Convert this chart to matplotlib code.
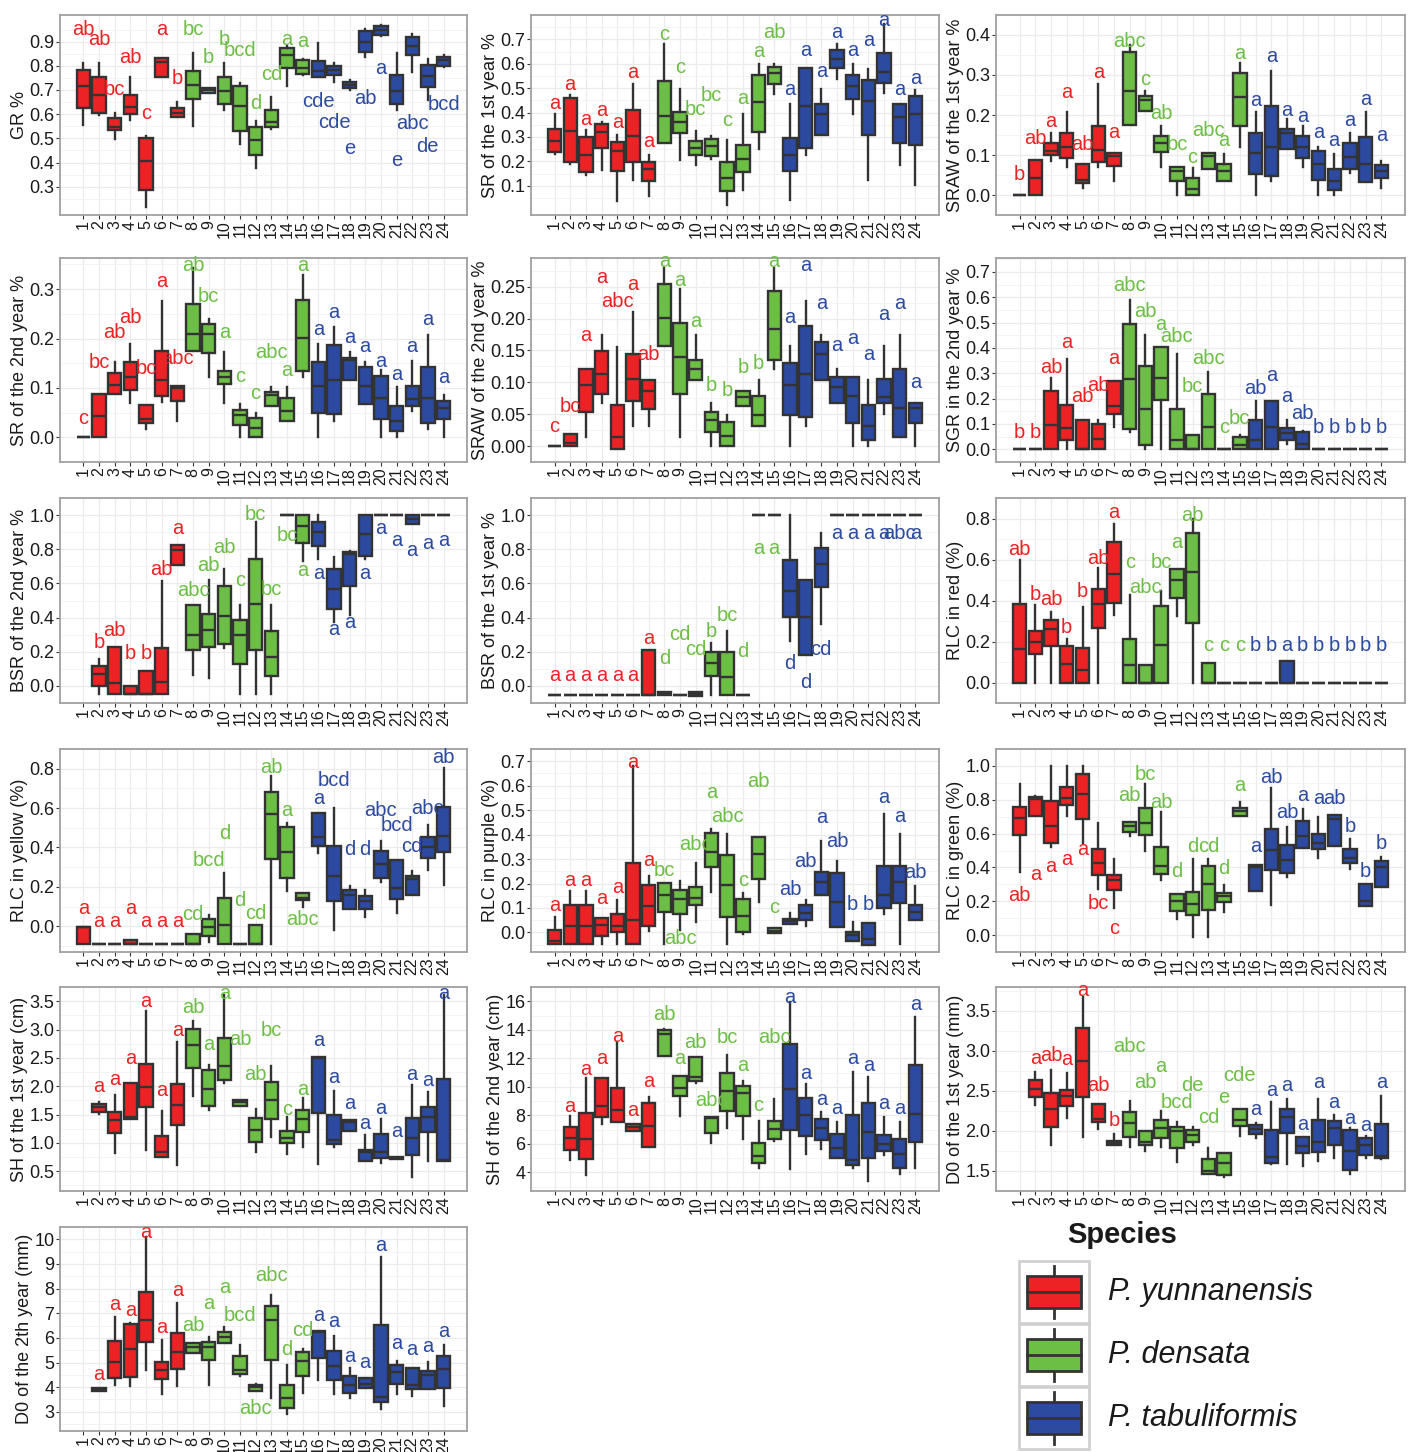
import matplotlib
matplotlib.use("Agg")
import matplotlib.pyplot as plt
import numpy as np
from matplotlib.patches import Rectangle

plt.rcParams['font.family'] = ['Liberation Sans', 'DejaVu Sans']

# groups 1-24, species by group
groups = list(range(1, 25))
species = ['P. yunnanensis', 'P. densata', 'P. tabuliformis']
species_of_group = [0] * 7 + [1] * 8 + [2] * 9
colors = ['#ED2224', '#6DBE45', '#2C4AA0']

Z = (0, 0, 0, 0, 0)
ONE = (1, 1, 1, 1, 1)

# (whisker low, q1, median, q3, whisker high) per group
gr_box = [(0.555, 0.624, 0.717, 0.783, 0.81), (0.597, 0.603, 0.68, 0.755, 0.81), (0.496, 0.535, 0.548, 0.583, 0.603),
          (0.576, 0.6, 0.628, 0.679, 0.752), (0.217, 0.286, 0.406, 0.5, 0.51), (0.755, 0.755, 0.817, 0.834, 0.834),
          (0.59, 0.59, 0.603, 0.624, 0.65), (0.552, 0.661, 0.72, 0.78, 0.852), (0.689, 0.689, 0.70, 0.707, 0.707),
          (0.617, 0.64, 0.697, 0.755, 0.81), (0.476, 0.53, 0.634, 0.717, 0.728), (0.376, 0.431, 0.493, 0.548, 0.573),
          (0.537, 0.548, 0.569, 0.617, 0.67), (0.717, 0.79, 0.845, 0.872, 0.88), (0.76, 0.766, 0.79, 0.824, 0.83),
          (0.752, 0.752, 0.78, 0.82, 0.893), (0.734, 0.762, 0.783, 0.80, 0.81), (0.70, 0.707, 0.72, 0.734, 0.74),
          (0.835, 0.859, 0.9, 0.945, 0.951), (0.925, 0.928, 0.948, 0.965, 0.97), (0.617, 0.642, 0.697, 0.762, 0.852),
          (0.776, 0.845, 0.88, 0.918, 0.932), (0.659, 0.711, 0.758, 0.803, 0.827), (0.797, 0.8, 0.824, 0.838, 0.845)]
gr_let = ['ab', 'ab', 'bc', 'ab', 'c', 'a', 'b', 'bc', 'b', 'b', 'bcd', 'd', 'cd', 'a', 'a',
          'cde', 'cde', 'e', 'ab', 'a', 'e', 'abc', 'de', 'bcd']
gr_lety = [0.948, 0.907, 0.70, 0.835, 0.603, 0.95, 0.748, 0.95, 0.835, 0.907, 0.863, 0.645, 0.766, 0.907, 0.90,
           0.652, 0.565, 0.459, 0.663, 0.79, 0.41, 0.562, 0.465, 0.638]

sr1_box = [(0.232, 0.238, 0.283, 0.334, 0.393), (0.191, 0.197, 0.325, 0.458, 0.472), (0.146, 0.155, 0.228, 0.301, 0.329),
           (0.164, 0.256, 0.32, 0.352, 0.36), (0.038, 0.159, 0.242, 0.279, 0.307), (0.122, 0.198, 0.304, 0.41, 0.517),
           (0.059, 0.118, 0.169, 0.197, 0.225), (0.274, 0.274, 0.384, 0.531, 0.682), (0.205, 0.315, 0.362, 0.404, 0.496),
           (0.184, 0.228, 0.256, 0.283, 0.325), (0.208, 0.221, 0.263, 0.29, 0.304), (0.022, 0.077, 0.132, 0.197, 0.287),
           (0.081, 0.155, 0.208, 0.269, 0.393), (0.249, 0.32, 0.444, 0.554, 0.60), (0.476, 0.517, 0.562, 0.586, 0.60),
           (0.04, 0.159, 0.228, 0.297, 0.435), (0.228, 0.256, 0.425, 0.582, 0.582), (0.307, 0.307, 0.393, 0.435, 0.496),
           (0.538, 0.582, 0.62, 0.655, 0.682), (0.393, 0.455, 0.507, 0.554, 0.60), (0.125, 0.307, 0.448, 0.535, 0.579),
           (0.48, 0.521, 0.568, 0.645, 0.765), (0.187, 0.274, 0.38, 0.435, 0.435), (0.104, 0.269, 0.393, 0.466, 0.494)]
sr1_let = ['a'] * 7 + ['c', 'c', 'bc', 'bc', 'c', 'a', 'a', 'ab'] + ['a'] * 9
sr1_lety = [0.439, 0.517, 0.373, 0.407, 0.359, 0.565, 0.283, 0.72, 0.586, 0.414, 0.469, 0.366, 0.458, 0.65, 0.73,
            0.494, 0.655, 0.568, 0.73, 0.655, 0.696, 0.778, 0.496, 0.54]

sraw1_box = [Z, (0, 0, 0.042, 0.087, 0.087), (0.086, 0.099, 0.111, 0.13, 0.155), (0.07, 0.093, 0.121, 0.156, 0.207),
             (0.017, 0.029, 0.038, 0.078, 0.078), (0.07, 0.082, 0.113, 0.172, 0.277), (0.035, 0.072, 0.098, 0.105, 0.105),
             (0.174, 0.174, 0.259, 0.357, 0.374), (0.209, 0.209, 0.238, 0.247, 0.259), (0.07, 0.107, 0.13, 0.148, 0.172),
             (0.0, 0.036, 0.061, 0.07, 0.07), (0.0, 0.0, 0.015, 0.042, 0.068), (0.064, 0.064, 0.098, 0.105, 0.105),
             (0.035, 0.036, 0.061, 0.078, 0.102), (0.121, 0.172, 0.245, 0.305, 0.33), (0.0, 0.052, 0.105, 0.156, 0.207),
             (0.035, 0.047, 0.121, 0.223, 0.311), (0.116, 0.116, 0.156, 0.165, 0.19), (0.07, 0.093, 0.121, 0.148, 0.172),
             (0.0, 0.038, 0.078, 0.109, 0.12), (0.0, 0.012, 0.035, 0.064, 0.102), (0.054, 0.064, 0.095, 0.13, 0.156),
             (0.033, 0.033, 0.078, 0.144, 0.207), (0.017, 0.042, 0.061, 0.075, 0.086)]
sraw1_let = ['b', 'ab', 'a', 'a', 'ab', 'a', 'a', 'abc', 'c', 'ab', 'bc', 'c', 'abc', 'a', 'a'] + ['a'] * 9
sraw1_lety = [0.05, 0.141, 0.184, 0.256, 0.127, 0.307, 0.156, 0.383, 0.289, 0.203, 0.127, 0.093, 0.162, 0.137, 0.353,
              0.237, 0.346, 0.212, 0.197, 0.156, 0.137, 0.186, 0.238, 0.148]

sr2_box = [Z, (0, 0, 0.043, 0.087, 0.087), (0.087, 0.087, 0.106, 0.13, 0.153), (0.07, 0.095, 0.122, 0.152, 0.189),
           (0.017, 0.029, 0.037, 0.065, 0.065), (0.071, 0.083, 0.115, 0.174, 0.276), (0.034, 0.073, 0.099, 0.104, 0.104),
           (0.174, 0.174, 0.209, 0.27, 0.342), (0.122, 0.17, 0.209, 0.23, 0.24), (0.07, 0.107, 0.122, 0.135, 0.172),
           (0.0, 0.025, 0.045, 0.056, 0.068), (0.0, 0.0, 0.019, 0.039, 0.05), (0.064, 0.064, 0.085, 0.091, 0.102),
           (0.034, 0.034, 0.054, 0.079, 0.102), (0.122, 0.135, 0.202, 0.278, 0.329), (0.0, 0.05, 0.104, 0.152, 0.189),
           (0.034, 0.047, 0.115, 0.186, 0.224), (0.116, 0.116, 0.157, 0.16, 0.172), (0.068, 0.068, 0.104, 0.143, 0.153),
           (0.0, 0.037, 0.079, 0.124, 0.137), (0.0, 0.012, 0.034, 0.064, 0.102), (0.053, 0.064, 0.078, 0.104, 0.155),
           (0.017, 0.029, 0.079, 0.143, 0.208), (0.0, 0.037, 0.059, 0.073, 0.085)]
sr2_let = ['c', 'bc', 'ab', 'ab', 'bc', 'a', 'abc', 'ab', 'bc', 'a', 'c', 'c', 'abc', 'a', 'a'] + ['a'] * 9
sr2_lety = [0.039, 0.152, 0.213, 0.242, 0.14, 0.315, 0.16, 0.348, 0.286, 0.213, 0.124, 0.089, 0.172, 0.135, 0.348,
            0.219, 0.252, 0.203, 0.183, 0.153, 0.127, 0.184, 0.238, 0.122]

sraw2_box = [Z, (0, 0, 0.005, 0.019, 0.019), (0.014, 0.053, 0.095, 0.121, 0.121), (0.068, 0.081, 0.113, 0.149, 0.174),
             (-0.005, -0.005, 0.014, 0.064, 0.155), (0.032, 0.071, 0.105, 0.144, 0.21), (0.032, 0.058, 0.086, 0.103, 0.103),
             (0.157, 0.157, 0.201, 0.255, 0.279), (0.014, 0.081, 0.139, 0.193, 0.246), (0.103, 0.103, 0.121, 0.135, 0.174),
             (0.0, 0.022, 0.041, 0.054, 0.067), (0.0, 0.0, 0.015, 0.037, 0.049), (0.063, 0.063, 0.077, 0.086, 0.086),
             (0.031, 0.031, 0.049, 0.078, 0.103), (0.121, 0.135, 0.184, 0.243, 0.28), (0.0, 0.049, 0.095, 0.13, 0.157),
             (0.032, 0.046, 0.113, 0.189, 0.228), (0.103, 0.103, 0.145, 0.163, 0.174), (0.067, 0.067, 0.092, 0.108, 0.121),
             (0.0, 0.036, 0.078, 0.108, 0.108), (0.0, 0.009, 0.032, 0.064, 0.103), (0.051, 0.067, 0.077, 0.105, 0.157),
             (0.014, 0.014, 0.059, 0.121, 0.174), (0.0, 0.036, 0.059, 0.068, 0.068)]
sraw2_let = ['c', 'bc', 'a', 'a', 'abc', 'a', 'ab', 'a', 'a', 'a', 'b', 'b', 'b', 'b', 'a'] + ['a'] * 9
sraw2_lety = [0.031, 0.062, 0.173, 0.264, 0.226, 0.254, 0.143, 0.289, 0.26, 0.196, 0.095, 0.087, 0.123, 0.13, 0.289,
              0.201, 0.283, 0.224, 0.158, 0.168, 0.144, 0.206, 0.224, 0.1]

sgr_box = [Z, Z, (0, 0, 0.097, 0.229, 0.282), (0, 0.036, 0.084, 0.176, 0.355), (0, 0, 0, 0.114, 0.114),
           (0, 0, 0.042, 0.101, 0.114), (0.088, 0.141, 0.171, 0.268, 0.268), (0.068, 0.082, 0.276, 0.496, 0.588),
           (0, 0.018, 0.161, 0.329, 0.453), (0, 0.193, 0.282, 0.404, 0.404), (0, 0, 0.036, 0.161, 0.378),
           (0, 0, 0, 0.058, 0.058), (0, 0, 0.088, 0.22, 0.305), Z, (0, 0, 0.018, 0.049, 0.058),
           (0, 0, 0.036, 0.114, 0.189), (0, 0, 0.088, 0.189, 0.189), (0.022, 0.036, 0.066, 0.084, 0.114),
           (0, 0, 0.022, 0.068, 0.072), Z, Z, Z, Z, Z]
sgr_let = ['b', 'b', 'ab', 'a', 'ab', 'ab', 'a', 'abc', 'ab', 'a', 'abc', 'bc', 'abc', 'c', 'bc',
           'ab', 'a', 'a', 'ab', 'b', 'b', 'b', 'b', 'b']
sgr_lety = [0.068, 0.068, 0.321, 0.421, 0.21, 0.253, 0.358, 0.647, 0.542, 0.492, 0.447, 0.246, 0.358, 0.088, 0.121,
            0.242, 0.292, 0.207, 0.141, 0.088, 0.088, 0.088, 0.088, 0.088]

b0 = -0.045
bsr2_box = [None, (b0, 0.0, 0.067, 0.114, 0.16), (b0, b0, 0.015, 0.229, 0.229), (b0, b0, b0, 0.0, 0.0),
            (b0, b0, b0, 0.086, 0.086), (b0, b0, 0.024, 0.224, 0.612), (0.709, 0.709, 0.795, 0.826, 0.826),
            (0.062, 0.211, 0.30, 0.472, 0.472), (0.049, 0.229, 0.328, 0.422, 0.621), (0.22, 0.248, 0.407, 0.584, 0.683),
            (b0, 0.127, 0.30, 0.388, 0.472), (b0, 0.211, 0.478, 0.743, 0.957), (b0, 0.056, 0.168, 0.323, 0.472),
            ONE, (0.733, 0.836, 0.938, 1.0, 1.0), (0.743, 0.821, 0.901, 0.957, 1.0), (0.373, 0.448, 0.565, 0.683, 0.757),
            (0.416, 0.584, 0.77, 0.783, 0.79), (0.743, 0.761, 0.892, 1.0, 1.0), ONE, ONE,
            (0.948, 0.948, 0.976, 1.0, 1.0), ONE, ONE]
bsr2_let = ['', 'b', 'ab', 'b', 'b', 'ab', 'a', 'abc', 'ab', 'ab', 'c', 'bc', 'bc', 'bc', 'a'] + ['a'] * 9
bsr2_lety = [None, 0.254, 0.323, 0.187, 0.187, 0.683, 0.92, 0.56, 0.705, 0.808, 0.616, 1.004, 0.565, 0.882, 0.677,
             0.659, 0.328, 0.369, 0.659, 0.92, 0.851, 0.795, 0.832, 0.851]

c0 = -0.052
C0 = (c0, c0, c0, c0, c0)
bsr1_box = [C0] * 6 + [(c0, c0, c0, 0.212, 0.212), (c0, c0, -0.045, -0.037, -0.037), C0,
                       (-0.061, -0.061, -0.045, -0.034, -0.034), (c0, 0.06, 0.134, 0.199, 0.25),
                       (c0, c0, 0.05, 0.199, 0.324), C0, ONE, ONE, (0.264, 0.404, 0.553, 0.739, 1.0),
                       (0.181, 0.181, 0.404, 0.622, 0.622), (0.361, 0.577, 0.715, 0.808, 0.894)] + [ONE] * 6
bsr1_let = ['a'] * 7 + ['d', 'cd', 'cd', 'b', 'bc', 'd', 'a', 'a', 'd', 'd', 'cd', 'a', 'a', 'a', 'a', 'abc', 'a']
bsr1_lety = [0.063] * 6 + [0.279, 0.162, 0.302, 0.212, 0.32, 0.413, 0.199, 0.804, 0.804, 0.134, 0.022, 0.212] + [0.894] * 6

rlcr_box = [(0, 0, 0.164, 0.383, 0.6), (0, 0.141, 0.2, 0.252, 0.378), (0, 0.179, 0.262, 0.305, 0.345),
            (0, 0, 0.092, 0.179, 0.214), (0, 0, 0.063, 0.17, 0.368), (0, 0.266, 0.385, 0.455, 0.56),
            (0.33, 0.388, 0.531, 0.684, 0.775), (0, 0, 0.083, 0.214, 0.426), (0, 0, 0, 0.087, 0.087),
            (0, 0, 0.182, 0.374, 0.447), (0.324, 0.412, 0.499, 0.553, 0.553), (0, 0.291, 0.538, 0.727, 0.8),
            (0, 0, 0, 0.095, 0.095), Z, Z, Z, Z, (0, 0, 0, 0.106, 0.106), Z, Z, Z, Z, Z, Z]
rlcr_let = ['ab', 'b', 'ab', 'b', 'b', 'ab', 'a', 'c', 'abc', 'bc', 'a', 'ab', 'c', 'c', 'c',
            'b', 'b', 'a', 'b', 'b', 'b', 'b', 'b', 'b']
rlcr_lety = [0.65, 0.429, 0.403, 0.266, 0.444, 0.604, 0.829, 0.586, 0.461, 0.586, 0.684, 0.815] + [0.179] * 12

y0 = -0.088
Y0 = (y0, y0, y0, y0, y0)
rlcy_box = [(y0, y0, -0.003, -0.003, -0.003), Y0, Y0, (y0, y0, y0, -0.07, -0.07), Y0, Y0, Y0,
            (y0, y0, y0, -0.042, -0.042), (-0.081, -0.05, -0.003, 0.037, 0.059), (y0, y0, 0.008, 0.143, 0.27), Y0,
            (y0, y0, y0, 0.008, 0.008), (y0, 0.34, 0.569, 0.682, 0.761), (0.177, 0.244, 0.379, 0.502, 0.525),
            (0.098, 0.131, 0.143, 0.168, 0.168), (0.374, 0.408, 0.455, 0.573, 0.573), (-0.017, 0.126, 0.256, 0.408, 0.598),
            (0.088, 0.088, 0.16, 0.182, 0.205), (0.047, 0.088, 0.126, 0.155, 0.182), (0.222, 0.244, 0.317, 0.384, 0.435),
            (0.067, 0.138, 0.194, 0.337, 0.337), (0.16, 0.16, 0.239, 0.256, 0.278), (0.286, 0.345, 0.404, 0.451, 0.514),
            (0.211, 0.379, 0.458, 0.606, 0.805)]
rlcy_let = ['a'] * 7 + ['cd', 'bcd', 'd', 'd', 'cd', 'ab', 'a', 'abc', 'a', 'bcd', 'd', 'd', 'abc', 'bcd', 'cd', 'abc', 'ab']
rlcy_lety = [0.088, 0.025, 0.025, 0.088, 0.025, 0.025, 0.025, 0.059, 0.333, 0.472, 0.131, 0.067, 0.805, 0.589, 0.034,
             0.648, 0.741, 0.391, 0.391, 0.586, 0.514, 0.404, 0.598, 0.859]

rlcp_box = [(-0.048, -0.048, -0.035, 0.01, 0.064), (-0.048, -0.048, 0.026, 0.113, 0.171),
            (-0.048, -0.048, 0.026, 0.113, 0.171), (-0.048, -0.013, 0.03, 0.059, 0.059), (-0.048, 0.0, 0.026, 0.075, 0.133),
            (-0.048, -0.048, 0.052, 0.284, 0.68), (0.004, 0.026, 0.107, 0.193, 0.229), (-0.048, 0.085, 0.155, 0.201, 0.201),
            (0.01, 0.077, 0.137, 0.175, 0.21), (0.043, 0.111, 0.139, 0.184, 0.284), (0.165, 0.268, 0.33, 0.407, 0.423),
            (-0.048, 0.064, 0.193, 0.317, 0.403), (-0.006, 0.0, 0.068, 0.137, 0.162), (0.124, 0.219, 0.32, 0.39, 0.39),
            (-0.003, -0.003, 0.005, 0.017, 0.017), (0.034, 0.034, 0.045, 0.055, 0.081), (0.026, 0.052, 0.081, 0.113, 0.133),
            (0.155, 0.155, 0.206, 0.249, 0.374), (0.021, 0.021, 0.126, 0.245, 0.294), (-0.035, -0.035, -0.009, 0.0, 0.043),
            (-0.052, -0.052, -0.028, 0.039, 0.039), (0.075, 0.101, 0.155, 0.271, 0.485), (-0.048, 0.12, 0.206, 0.271, 0.403),
            (0.049, 0.049, 0.085, 0.113, 0.191)]
rlcp_let = ['a'] * 7 + ['bc', 'abc', 'abc', 'a', 'abc', 'c', 'ab', 'c', 'ab', 'ab', 'a', 'ab', 'b', 'b', 'a', 'a', 'ab']
rlcp_lety = [0.111, 0.214, 0.214, 0.139, 0.184, 0.693, 0.296, 0.255, -0.026, 0.358, 0.571, 0.474, 0.214, 0.619, 0.1,
             0.175, 0.291, 0.468, 0.371, 0.113, 0.113, 0.552, 0.472, 0.245]

rlcg_box = [(0.375, 0.593, 0.691, 0.756, 0.891), (0.702, 0.702, 0.805, 0.818, 0.825), (0.52, 0.542, 0.642, 0.793, 1.0),
            (0.702, 0.769, 0.811, 0.878, 1.0), (0.545, 0.684, 0.833, 0.951, 1.0), (0.273, 0.356, 0.424, 0.509, 0.665),
            (0.16, 0.269, 0.327, 0.356, 0.451), (0.587, 0.611, 0.647, 0.669, 0.669), (0.496, 0.593, 0.66, 0.751, 0.891),
            (0.324, 0.364, 0.411, 0.52, 0.727), (0.096, 0.142, 0.2, 0.242, 0.242), (-0.013, 0.12, 0.182, 0.255, 0.447),
            (-0.013, 0.151, 0.302, 0.411, 0.447), (0.138, 0.193, 0.229, 0.251, 0.296), (0.702, 0.702, 0.733, 0.751, 0.787),
            (0.26, 0.26, 0.40, 0.415, 0.415), (0.175, 0.387, 0.505, 0.629, 0.869), (0.345, 0.369, 0.442, 0.533, 0.636),
            (0.515, 0.515, 0.587, 0.673, 0.745), (0.455, 0.509, 0.542, 0.60, 0.696), (0.527, 0.527, 0.687, 0.709, 0.709),
            (0.393, 0.424, 0.455, 0.509, 0.569), (0.169, 0.169, 0.2, 0.302, 0.302), (0.284, 0.284, 0.405, 0.436, 0.46)]
rlcg_let = ['ab', 'a', 'a', 'a', 'a', 'bc', 'c', 'ab', 'bc', 'ab', 'd', 'd', 'cd', 'd', 'a',
            'a', 'ab', 'ab', 'a', 'a', 'ab', 'b', 'b', 'b']
rlcg_lety = [0.233, 0.356, 0.405, 0.447, 0.505, 0.187, 0.036, 0.824, 0.951, 0.782, 0.375, 0.524, 0.524, 0.396, 0.887,
             0.524, 0.933, 0.724, 0.824, 0.805, 0.805, 0.642, 0.378, 0.542]

sh1_box = [None, (1.513, 1.542, 1.629, 1.687, 1.716), (0.818, 1.183, 1.397, 1.554, 1.843), (1.415, 1.415, 1.455, 2.052, 2.052),
           (0.876, 1.629, 1.994, 2.399, 3.326), (0.761, 0.761, 0.847, 1.125, 1.571), (0.604, 1.311, 1.67, 2.034, 2.787),
           (1.82, 2.324, 2.729, 3.001, 3.152), (1.589, 1.658, 1.948, 2.283, 2.382), (2.063, 2.11, 2.364, 2.845, 3.615),
           (1.658, 1.658, 1.716, 1.762, 1.762), (0.847, 1.021, 1.224, 1.438, 1.6), (1.108, 1.415, 1.762, 2.075, 2.364),
           (0.801, 0.992, 1.091, 1.206, 1.455), (0.934, 1.195, 1.415, 1.589, 1.785), (0.627, 1.531, 2.498, 2.515, 2.515),
           (0.934, 0.975, 1.05, 1.496, 1.919), (1.206, 1.206, 1.369, 1.398, 1.398), (0.674, 0.674, 0.847, 0.876, 1.137),
           (0.645, 0.732, 0.847, 1.166, 1.426), (0.72, 0.72, 0.743, 0.761, 0.761), (0.396, 0.79, 1.091, 1.438, 2.017),
           (0.685, 1.195, 1.455, 1.629, 1.901), (0.674, 0.674, 0.703, 2.133, 3.615)]
sh1_let = ['', 'a', 'a', 'a', 'a', 'a', 'a', 'ab', 'a', 'a', 'ab', 'ab', 'bc', 'c', 'a'] + ['a'] * 9
sh1_lety = [None, 1.994, 2.121, 2.498, 3.5, 1.919, 2.978, 3.384, 2.729, 3.627, 2.816, 2.208, 2.99, 1.589, 1.948,
            2.805, 2.15, 1.704, 1.34, 1.6, 1.195, 2.208, 2.11, 3.627]

sh2_box = [None, (4.84, 5.58, 6.42, 7.21, 7.94), (3.82, 4.95, 6.35, 8.17, 10.61), (7.4, 7.89, 8.62, 10.61, 10.61),
           (7.55, 7.55, 8.35, 9.93, 13.15), (6.88, 6.88, 7.17, 7.4, 7.4), (5.81, 5.81, 7.26, 8.84, 9.3),
           (12.15, 12.15, 13.67, 14.0, 14.05), (7.94, 9.37, 9.93, 10.79, 10.79), (10.27, 10.38, 10.72, 12.08, 12.08),
           (6.08, 6.76, 7.78, 7.89, 7.89), (7.1, 8.3, 9.7, 10.95, 12.2), (6.35, 7.94, 9.59, 10.04, 10.38),
           (4.32, 4.68, 5.18, 6.04, 7.62), (6.2, 6.35, 7.03, 7.62, 9.14), (4.23, 6.99, 9.82, 12.99, 15.93),
           (5.29, 6.58, 8.01, 9.21, 10.2), (5.63, 6.26, 7.1, 7.71, 8.23), (5.0, 5.0, 5.74, 6.72, 7.55),
           (4.32, 4.5, 4.84, 8.01, 11.06), (3.37, 5.0, 6.81, 8.84, 10.72), (5.22, 5.52, 5.97, 6.65, 7.89),
           (3.86, 4.32, 5.29, 6.35, 7.55), (4.32, 6.13, 8.08, 11.52, 14.91)]
sh2_let = ['', 'a', 'a', 'a', 'a', 'a', 'a', 'ab', 'a', 'ab', 'abc', 'bc', 'a', 'c', 'abc'] + ['a'] * 9
sh2_lety = [None, 8.62, 11.24, 12.01, 13.55, 8.35, 10.34, 15.09, 12.01, 13.1, 9.03, 13.44, 11.47, 8.69, 13.44,
            16.27, 10.95, 9.14, 8.46, 11.97, 11.52, 8.84, 8.46, 15.77]

d01_box = [None, (2.324, 2.418, 2.52, 2.635, 2.733), (1.827, 2.051, 2.276, 2.471, 2.765), (2.161, 2.308, 2.431, 2.512, 2.716),
           (1.929, 2.418, 2.867, 3.288, 3.671), (2.022, 2.112, 2.145, 2.337, 2.337), (1.818, 1.818, 1.847, 1.876, 1.957),
           (1.794, 1.929, 2.092, 2.235, 2.378), (1.745, 1.827, 1.867, 1.998, 1.998), (1.794, 1.908, 2.031, 2.133, 2.243),
           (1.614, 1.786, 1.998, 2.051, 2.112), (1.827, 1.867, 1.949, 2.01, 2.051), (1.467, 1.467, 1.5, 1.643, 1.786),
           (1.427, 1.451, 1.602, 1.724, 1.724), (1.941, 2.063, 2.133, 2.276, 2.276), (1.908, 1.957, 2.022, 2.071, 2.092),
           (1.582, 1.602, 1.671, 2.01, 2.357), (1.59, 1.969, 2.173, 2.276, 2.398), (1.561, 1.724, 1.806, 1.929, 1.929),
           (1.622, 1.737, 1.867, 2.133, 2.398), (1.663, 1.827, 2.039, 2.12, 2.194), (1.467, 1.508, 1.745, 2.01, 2.031),
           (1.663, 1.704, 1.827, 1.916, 1.941), (1.643, 1.663, 1.684, 2.08, 2.439)]
d01_let = ['', 'a', 'ab', 'a', 'a', 'ab', 'b', 'abc', 'ab', 'a', 'bcd', 'de', 'cd', 'e', 'cde'] + ['a'] * 9
d01_lety = [None, 2.908, 2.937, 2.896, 3.745, 2.569, 2.133, 3.051, 2.602, 2.798, 2.357, 2.569, 2.161, 2.418, 2.692,
            2.267, 2.5, 2.561, 2.08, 2.602, 2.357, 2.153, 2.071, 2.602]

d02_box = [None, (3.83, 3.83, 3.9, 3.97, 3.97), (4.07, 4.37, 5.04, 5.88, 6.86), (4.05, 4.41, 5.55, 6.55, 6.59),
           (4.68, 5.84, 6.73, 7.85, 10.08), (3.74, 4.34, 4.68, 5.04, 5.92), (4.05, 4.74, 5.41, 6.19, 7.42),
           (5.39, 5.39, 5.61, 5.79, 5.79), (4.1, 5.12, 5.61, 5.84, 6.02), (5.79, 5.79, 6.02, 6.24, 6.46),
           (4.45, 4.54, 4.68, 5.25, 5.71), (3.83, 3.83, 4.01, 4.1, 4.14), (3.54, 5.12, 6.73, 7.29, 7.76),
           (2.89, 3.16, 3.56, 4.1, 4.88), (3.78, 4.47, 5.08, 5.44, 5.55), (4.31, 5.17, 6.24, 6.28, 6.28),
           (3.74, 4.27, 4.85, 5.48, 6.06), (3.56, 3.78, 4.1, 4.45, 4.77), (3.97, 3.97, 4.14, 4.37, 4.37),
           (3.11, 3.38, 3.6, 6.51, 9.3), (3.74, 4.14, 4.61, 4.88, 5.08), (3.64, 3.91, 4.07, 4.77, 4.77),
           (3.91, 3.91, 4.5, 4.64, 5.01), (3.24, 3.97, 4.72, 5.25, 5.71)]
d02_let = ['', 'a', 'a', 'a', 'a', 'a', 'a', 'ab', 'a', 'a', 'bcd', 'abc', 'abc', 'd', 'cd'] + ['a'] * 9
d02_lety = [None, 4.5, 7.36, 7.13, 10.27, 6.42, 7.93, 6.51, 7.4, 8.03, 6.89, 3.13, 8.52, 5.52, 6.28,
            6.89, 6.65, 5.25, 5.01, 9.73, 5.79, 5.52, 5.65, 6.24]

# panel grid position, data, y label, y range, y ticks, tick format
panels = [
    (0, 0, gr_box, gr_let, gr_lety, 'GR %', (0.183, 1.01), [0.3, 0.4, 0.5, 0.6, 0.7, 0.8, 0.9], '%.1f'),
    (0, 1, sr1_box, sr1_let, sr1_lety, 'SR of the 1st year %', (-0.02, 0.8), [0.1, 0.2, 0.3, 0.4, 0.5, 0.6, 0.7], '%.1f'),
    (0, 2, sraw1_box, sraw1_let, sraw1_lety, 'SRAW of the 1st year %', (-0.018, 0.402), [0.0, 0.1, 0.2, 0.3, 0.4], '%.1f'),
    (1, 0, sr2_box, sr2_let, sr2_lety, 'SR of the 2nd year %', (-0.014, 0.363), [0.0, 0.1, 0.2, 0.3], '%.1f'),
    (1, 1, sraw2_box, sraw2_let, sraw2_lety, 'SRAW of the 2nd year %', (-0.017, 0.295),
     [0.0, 0.05, 0.10, 0.15, 0.20, 0.25], '%.2f'),
    (1, 2, sgr_box, sgr_let, sgr_lety, 'SGR in the 2nd year %', (-0.045, 0.755),
     [0.0, 0.1, 0.2, 0.3, 0.4, 0.5, 0.6, 0.7], '%.1f'),
    (2, 0, bsr2_box, bsr2_let, bsr2_lety, 'BSR of the 2nd year %', (-0.093, 1.05), [0.0, 0.2, 0.4, 0.6, 0.8, 1.0], '%.1f'),
    (2, 1, bsr1_box, bsr1_let, bsr1_lety, 'BSR of the 1st year %', (-0.1, 1.047), [0.0, 0.2, 0.4, 0.6, 0.8, 1.0], '%.1f'),
    (2, 2, rlcr_box, rlcr_let, rlcr_lety, 'RLC in red (%)', (-0.029, 0.863), [0.0, 0.2, 0.4, 0.6, 0.8], '%.1f'),
    (3, 0, rlcy_box, rlcy_let, rlcy_lety, 'RLC in yellow (%)', (-0.131, 0.9), [0.0, 0.2, 0.4, 0.6, 0.8], '%.1f'),
    (3, 1, rlcp_box, rlcp_let, rlcp_lety, 'RLC in purple (%)', (-0.08, 0.713),
     [0.0, 0.1, 0.2, 0.3, 0.4, 0.5, 0.6, 0.7], '%.1f'),
    (3, 2, rlcg_box, rlcg_let, rlcg_lety, 'RLC in green (%)', (-0.062, 1.042), [0.0, 0.2, 0.4, 0.6, 0.8, 1.0], '%.1f'),
    (4, 0, sh1_box, sh1_let, sh1_lety, 'SH of the 1st year (cm)', (0.153, 3.696),
     [0.5, 1.0, 1.5, 2.0, 2.5, 3.0, 3.5], '%.1f'),
    (4, 1, sh2_box, sh2_let, sh2_lety, 'SH of the 2nd year (cm)', (2.69, 16.6), [4, 6, 8, 10, 12, 14, 16], '%d'),
    (4, 2, d01_box, d01_let, d01_lety, 'D0 of the 1st year (mm)', (1.316, 3.794), [1.5, 2.0, 2.5, 3.0, 3.5], '%.1f'),
    (5, 0, d02_box, d02_let, d02_lety, 'D0 of the 2th year (mm)', (2.22, 10.44), [3, 4, 5, 6, 7, 8, 9, 10], '%d'),
]

W, H = 1413, 1452
fig = plt.figure(figsize=(W / 100, H / 100), dpi=100)
fig.patch.set_facecolor('white')

cols_px = [(60, 467), (531, 939), (996, 1405)]
rows_px = [(15, 215), (258, 462), (498, 703), (749, 952), (987, 1191), (1227, 1431)]
EDGE = '#333333'


def draw_panel(row, col, boxes, letters, lety, ylabel, ylim, yticks, fmt):
    l, r = cols_px[col]
    t, b = rows_px[row]
    ax = fig.add_axes([l / W, 1 - b / H, (r - l) / W, (b - t) / H])
    stats, pos, cols = [], [], []
    for i, bx in enumerate(boxes):
        if bx is None:
            continue
        lo, q1, med, q3, hi = bx
        stats.append(dict(whislo=lo, q1=q1, med=med, q3=q3, whishi=hi, fliers=[]))
        pos.append(groups[i])
        cols.append(colors[species_of_group[i]])
    bp = ax.bxp(stats, positions=pos, widths=0.85, patch_artist=True, showcaps=False, showfliers=False,
                boxprops=dict(edgecolor=EDGE, linewidth=1.7),
                medianprops=dict(color=EDGE, linewidth=1.7),
                whiskerprops=dict(color=EDGE, linewidth=1.7), zorder=3)
    for patch, c in zip(bp['boxes'], cols):
        patch.set_facecolor(c)
    for i, (s, y) in enumerate(zip(letters, lety)):
        if s and y is not None:
            ax.text(groups[i], y, s, color=colors[species_of_group[i]], ha='center', va='center',
                    fontsize=14.5, zorder=4)
    ax.set_xlim(-0.5, 25.5)
    ax.set_ylim(*ylim)
    ax.set_xticks(groups)
    ax.set_xticklabels([str(g) for g in groups], rotation=90, fontsize=11.5, color='#1a1a1a')
    ax.set_yticks(yticks)
    ax.set_yticklabels([fmt % v for v in yticks], fontsize=13, color='#1a1a1a')
    step = yticks[1] - yticks[0]
    minor = [yticks[0] - step / 2] + [v + step / 2 for v in yticks]
    ax.set_yticks(minor, minor=True)
    ax.grid(True, which='major', color='#EBEBEB', linewidth=0.9, zorder=0)
    ax.grid(True, which='minor', axis='y', color='#F3F3F3', linewidth=0.6, zorder=0)
    ax.set_axisbelow(True)
    ax.tick_params(axis='both', which='major', length=3, width=0.8, color='#333333', pad=1)
    ax.tick_params(axis='y', which='minor', length=0)
    for sp in ax.spines.values():
        sp.set_color('#A0A0A0')
        sp.set_linewidth(1.3)
    ax.set_ylabel(ylabel, fontsize=13, labelpad=1, color='#1a1a1a')
    return ax


for p in panels:
    draw_panel(*p)

# legend
lax = fig.add_axes([1000 / W, 0, 413 / W, 242 / H])
lax.set_xlim(1000, 1413)
lax.set_ylim(1452, 1210)
lax.axis('off')
lax.text(1122, 1235, 'Species', fontsize=21, fontweight='bold', ha='center', va='center', color='#1a1a1a')
key_tops = [1261, 1324, 1387]
for k, (top, name) in enumerate(zip(key_tops, species)):
    lax.add_patch(Rectangle((1019, top), 70, 62, facecolor='white', edgecolor='#D0D0D0', linewidth=2))
    mid = top + 31
    lax.plot([1054, 1054], [top + 5, top + 57], color=EDGE, linewidth=2)
    lax.add_patch(Rectangle((1027, mid - 16), 54, 32, facecolor=colors[k], edgecolor=EDGE, linewidth=2, zorder=3))
    lax.plot([1027, 1081], [mid, mid], color=EDGE, linewidth=2, zorder=4)
    lax.text(1108, mid, name, fontsize=22, fontstyle='italic', ha='left', va='center', color='#1a1a1a')

fig.savefig('out.png', dpi=100, facecolor='white')
